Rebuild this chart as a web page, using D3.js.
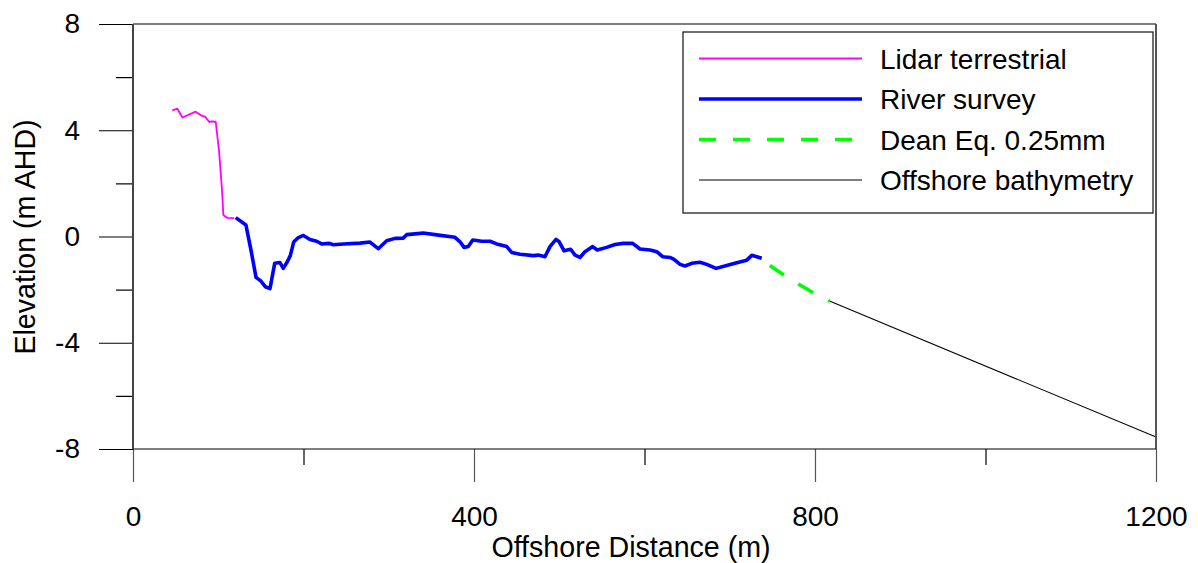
<!DOCTYPE html>
<html>
<head>
<meta charset="utf-8">
<script src="https://cdn.jsdelivr.net/npm/d3@7"></script>
<style>
  body { margin: 0; background: #fff; }
  text { font-family: "Liberation Sans", Arial, sans-serif; fill: #000; }
</style>
</head>
<body>
<svg id="chart_svg" width="1198" height="563"></svg>
<script>
// series (distance in m, elevation in m AHD)
const lidarX = [46, 52, 58, 73.5, 80.5, 85, 89.5, 92, 97, 101, 104.4, 106, 110.6, 118.8];
const lidarZ = [4.75, 4.81, 4.48, 4.70, 4.55, 4.50, 4.31, 4.33, 4.32, 3.2, 1.75, 0.81, 0.70, 0.69];

const riverX = [120.5, 132.5, 138.4, 144.3, 149.8, 155.2, 160.7, 166.2, 172.4, 176.3, 181, 184.5, 188.5,
  194, 199.8, 207.6, 215.4, 221.3, 230.3, 235, 246.7, 266.3, 278, 287.7, 297.6, 307.3, 317.1, 321,
  330.8, 340.6, 356.1, 377.7, 383.6, 388.3, 393.3, 398.5, 409, 418.8, 426.6, 438.4, 444.2, 454,
  469.6, 475.4, 483.3, 489.1, 496.2, 500, 505.6, 513.4, 518.5, 524.3, 530.2, 539.2, 544.6, 555.6,
  565.4, 575.1, 586.1, 594.7, 606.5, 614.3, 621.3, 629.9, 634.6, 641.7, 647.5, 655.4, 665.1, 673,
  683.9, 696.4, 708.2, 719.9, 725.8, 731.6, 737.5];
const riverZ = [0.71, 0.43, -0.51, -1.54, -1.67, -1.89, -1.96, -1.01, -0.98, -1.2, -0.95, -0.72, -0.21,
  -0.04, 0.04, -0.11, -0.18, -0.28, -0.26, -0.31, -0.28, -0.25, -0.21, -0.46, -0.16, -0.07, -0.06, 0.07,
  0.1, 0.13, 0.06, -0.03, -0.2, -0.41, -0.38, -0.13, -0.18, -0.18, -0.28, -0.38, -0.6, -0.67,
  -0.72, -0.70, -0.76, -0.38, -0.11, -0.2, -0.54, -0.48, -0.7, -0.79, -0.57, -0.38, -0.51, -0.41,
  -0.3, -0.26, -0.26, -0.47, -0.51, -0.57, -0.76, -0.79, -0.86, -1.05, -1.11, -1.01, -0.97, -1.05,
  -1.2, -1.09, -0.99, -0.89, -0.71, -0.76, -0.82];

const deanX = [747, 763, 780, 797, 817];
const deanZ = [-1.09, -1.44, -1.78, -2.10, -2.43];

const offshoreX = [817, 1200];
const offshoreZ = [-2.43, -7.55];

const xMajor = [0, 400, 800, 1200];
const xMinor = [200, 600, 1000];
const yMajor = [-8, -4, 0, 4, 8];
const yMinor = [-6, -2, 2, 6];

const seriesNames = ["Lidar terrestrial", "River survey", "Dean Eq. 0.25mm", "Offshore bathymetry"];

const svg = d3.select("#chart_svg");

const margin = { top: 24, right: 42, bottom: 114, left: 133 };
const width = 1198, height = 563;

const xScale = d3.scaleLinear().domain([0, 1200]).range([margin.left, width - margin.right]);
const yScale = d3.scaleLinear().domain([-8, 8]).range([height - margin.bottom, margin.top]);

const FONT = 28;

/**
 * Lines
 */
const styles = [
  { color: "#ff00ff", w: 1.8, dash: null },
  { color: "#0000ff", w: 3.6, dash: null },
  { color: "#00ff00", w: 3.6, dash: "17,17" },
  { color: "#000000", w: 1.1, dash: null }
];
const series = [
  d3.zip(lidarX, lidarZ),
  d3.zip(riverX, riverZ),
  d3.zip(deanX, deanZ),
  d3.zip(offshoreX, offshoreZ)
];

const line = d3.line()
  .x(d => xScale(d[0]))
  .y(d => yScale(d[1]));

const g_chart = svg.append("g");
series.forEach((s, i) => {
  g_chart.append("path")
    .datum(s)
    .attr("fill", "none")
    .attr("stroke", styles[i].color)
    .attr("stroke-width", styles[i].w)
    .attr("stroke-linejoin", "round")
    .attr("stroke-dasharray", styles[i].dash)
    .attr("d", line);
});

/**
 * Frame: top and right edge
 */
svg.append("line")
  .attr("x1", xScale(0)).attr("x2", xScale(1200))
  .attr("y1", yScale(8)).attr("y2", yScale(8))
  .attr("stroke", "#000").attr("stroke-width", 1.2);
svg.append("line")
  .attr("x1", xScale(1200)).attr("x2", xScale(1200))
  .attr("y1", yScale(8)).attr("y2", yScale(-8))
  .attr("stroke", "#555").attr("stroke-width", 2);

/**
 * Axes
 */
const plainFormat = d => String(d); // hyphen minus like the original

function styleAxis(g) {
  g.select(".domain").remove();
  g.selectAll(".tick line").attr("stroke", "#000").attr("stroke-width", 1.2);
  g.selectAll("text").style("font-size", FONT + "px").attr("fill", "#000");
}

svg.append("g")
  .attr("transform", "translate(0," + yScale(-8) + ")")
  .call(d3.axisBottom(xScale).tickValues(xMinor).tickSize(16).tickFormat(""))
  .call(styleAxis);

svg.append("g")
  .attr("transform", "translate(0," + yScale(-8) + ")")
  .call(d3.axisBottom(xScale).tickValues(xMajor).tickSize(33).tickPadding(24).tickFormat(plainFormat))
  .call(styleAxis)
  .call(g => g.selectAll(".tick line").attr("stroke", "#555"));

svg.append("g")
  .attr("transform", "translate(" + xScale(0) + ",0)")
  .call(d3.axisLeft(yScale).tickValues(yMinor).tickSize(17).tickFormat(""))
  .call(styleAxis);

svg.append("g")
  .attr("transform", "translate(" + xScale(0) + ",0)")
  .call(d3.axisLeft(yScale).tickValues(yMajor).tickSize(34).tickPadding(19).tickFormat(plainFormat))
  .call(styleAxis);

// axis lines
svg.append("line")
  .attr("x1", xScale(0)).attr("x2", xScale(1200))
  .attr("y1", yScale(-8)).attr("y2", yScale(-8))
  .attr("stroke", "#000").attr("stroke-width", 1.2);
svg.append("line")
  .attr("x1", xScale(0)).attr("x2", xScale(0))
  .attr("y1", yScale(8)).attr("y2", yScale(-8))
  .attr("stroke", "#444").attr("stroke-width", 2);

/**
 * Axis labels
 */
svg.append("text")
  .attr("x", 631)
  .attr("y", 557)
  .attr("text-anchor", "middle")
  .style("font-size", "28.6px")
  .text("Offshore Distance (m)");

svg.append("text")
  .attr("transform", "translate(35," + 237 + ") rotate(-90)")
  .attr("text-anchor", "middle")
  .style("font-size", "28.6px")
  .text("Elevation (m AHD)");

/**
 * Legend
 */
const legend = svg.append("g").attr("class", "legend");
legend.append("rect")
  .attr("x", 683).attr("y", 32)
  .attr("width", 470).attr("height", 181)
  .attr("fill", "#fff")
  .attr("stroke", "#222")
  .attr("stroke-width", 1.3);

const rowY = [58.5, 99, 139.5, 180];
const items = legend.selectAll(".legendItem")
  .data(seriesNames)
  .enter()
  .append("g")
  .attr("class", "legendItem")
  .attr("transform", (d, i) => "translate(0," + rowY[i] + ")");

items.append("line")
  .attr("x1", 699).attr("x2", 862)
  .attr("y1", 0).attr("y2", 0)
  .attr("stroke", (d, i) => styles[i].color)
  .attr("stroke-width", (d, i) => styles[i].w)
  .attr("stroke-dasharray", (d, i) => styles[i].dash);

items.append("text")
  .attr("x", 880)
  .attr("y", 10)
  .style("font-size", 28 + "px")
  .text(d => d);
</script>
</body>
</html>
